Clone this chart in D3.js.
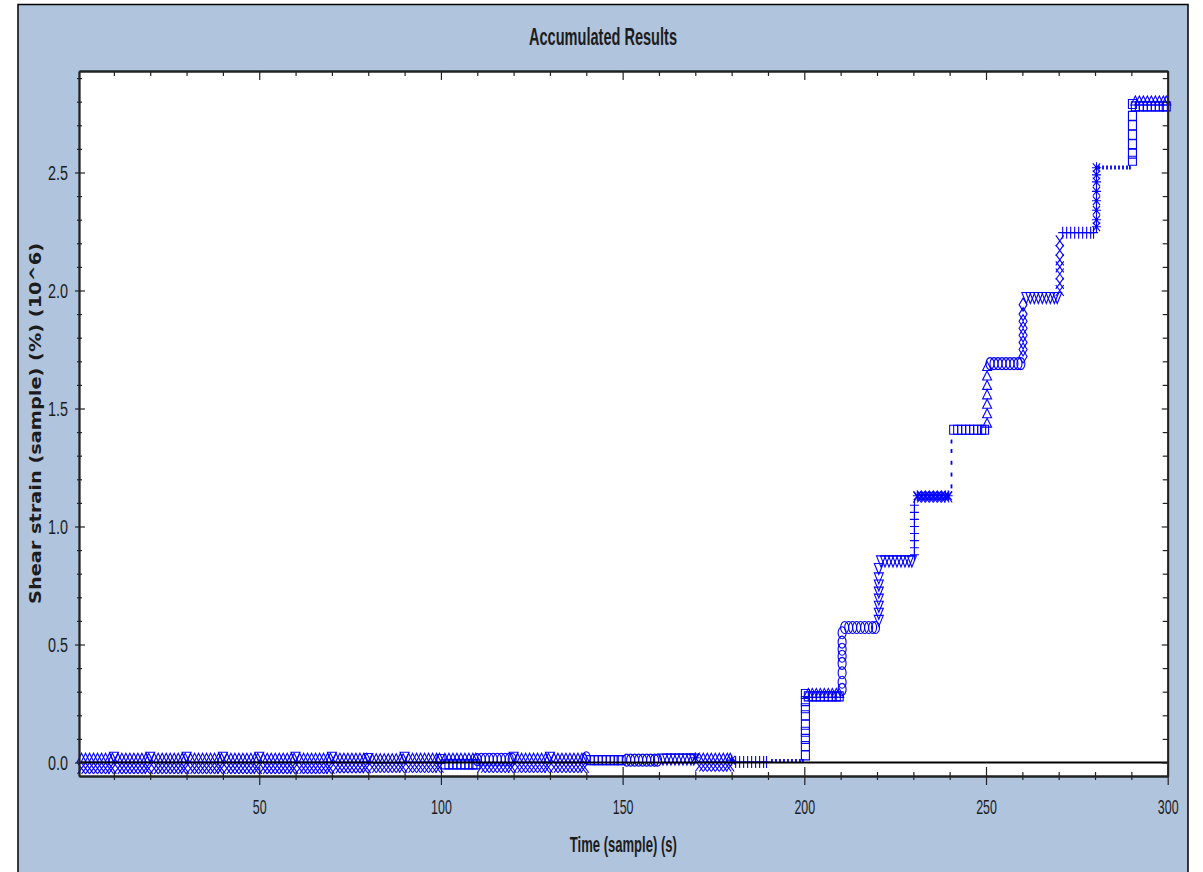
<!DOCTYPE html>
<html>
<head>
<meta charset="utf-8">
<title>Accumulated Results</title>
<style>
    body { margin: 0; background: #ffffff; }
    svg text { font-family: "Liberation Sans Narrow", "Liberation Sans", Arial, sans-serif; fill: #1c1c1c; }
    .mark { fill: none; stroke: #0000ff; stroke-width: 1.1; }
    .mark.dot { stroke-width: 1.8; }
</style>
</head>
<body>
<svg width="1203" height="872"></svg>
<script src="https://cdnjs.cloudflare.com/ajax/libs/d3/7.8.5/d3.min.js"></script>
<script>
// ---------------- data ----------------
// every 10 s block of the test
const blockStart = [0, 10, 20, 30, 40, 50, 60, 70, 80, 90,
    100, 110, 120, 130, 140, 150, 160, 170, 180, 190,
    200, 210, 220, 230, 240, 250, 260, 270, 280, 290];
// readings taken inside a block (s after block start)
const holdOffsets = [1.1, 2.2, 3.3, 4.4, 5.5, 6.6, 7.7, 8.8, 9.6];

// upper reading row of each block
const upperValue = [0.02, 0.02, 0.02, 0.02, 0.02, 0.02, 0.02, 0.02, 0.018, 0.02,
    0.02, 0.014, 0.02, 0.02, 0.01, 0.01, 0.012, 0.02, 0.002, 0.006,
    0.295, 0.572, 0.852, 1.13, 1.41, 1.69, 1.968, 2.245, 2.521, 2.805];
const upperMarker = ["triangle", "triangle", "triangle", "triangle", "triangle", "triangle", "triangle", "triangle", "triangle", "triangle",
    "triangle", "circle", "triangle", "triangle", "square", "circle", "triangleDown", "triangle", "plus", "dot",
    "triangle", "circle", "triangleDown", "star", "square", "circle", "triangleDown", "plus", "dot", "triangle"];

// lower reading row of each block (null = none)
const lowerValue = [-0.025, -0.025, -0.025, -0.025, -0.025, -0.025, -0.025, -0.022, -0.02, -0.02,
    -0.008, -0.02, -0.02, -0.02, null, null, null, -0.015, null, null,
    0.28, null, null, 1.125, null, null, null, null, null, 2.78];
const lowerMarker = ["x", "x", "x", "x", "x", "x", "x", "x", "x", "x",
    "square", "x", "x", "x", null, null, null, "x", null, null,
    "square", null, null, "x", null, null, null, null, null, "square"];

// marker drawn at the start of each block
const startValue = [null, 0.02, 0.02, 0.02, 0.02, 0.02, 0.02, 0.02, 0.015, 0.02,
    0.015, 0.012, 0.02, 0.02, 0.02, null, null, 0.02, 0.01, null];
const startMarker = [null, "triangleDown", "triangleDown", "triangleDown", "triangleDown", "triangleDown", "triangleDown", "triangleDown", "triangleDown", "triangleDown",
    "square", "circle", "triangleDown", "triangleDown", "circle", null, null, "star", "star", null];

// loading ramps at the start of each step
const rampStart = [200, 210, 220, 230, 240, 250, 260, 270, 280, 290];
const rampOffset = [0.3, 0.4, 0.5, 0.3, 0.5, 0.3, 0.2, 0.3, 0.4, 0.3];
const rampMarker = ["square", "circle", "triangleDown", "plus", "dot", "triangle", "diamond", "x", "star", "square"];
const rampValues = [
    [0.03, 0.07, 0.1, 0.13, 0.16, 0.2, 0.23, 0.26, 0.29],
    [0.31, 0.34, 0.38, 0.42, 0.45, 0.48, 0.51, 0.55],
    [0.6, 0.63, 0.66, 0.69, 0.72, 0.75, 0.78, 0.82],
    [0.88, 0.91, 0.94, 0.97, 1.0, 1.03, 1.06, 1.09],
    [1.17, 1.22, 1.27, 1.32, 1.36],
    [1.44, 1.48, 1.52, 1.56, 1.6, 1.64, 1.68],
    [1.72, 1.75, 1.78, 1.81, 1.84, 1.87, 1.9, 1.94],
    [2.0, 2.03, 2.07, 2.1, 2.13, 2.17, 2.21],
    [2.27, 2.3, 2.34, 2.38, 2.42, 2.46, 2.49, 2.52],
    [2.55, 2.58, 2.62, 2.66, 2.7, 2.74, 2.79]
];

// axes
const xMajorTicks = [50, 100, 150, 200, 250, 300];
const xMinorTicks = [10, 20, 30, 40, 60, 70, 80, 90, 110, 120, 130, 140, 160, 170, 180, 190, 210, 220, 230, 240, 260, 270, 280, 290];
const yMajorTicks = [0.0, 0.5, 1.0, 1.5, 2.0, 2.5];
const yMinorTicks = [0.1, 0.2, 0.3, 0.4, 0.6, 0.7, 0.8, 0.9, 1.1, 1.2, 1.3, 1.4, 1.6, 1.7, 1.8, 1.9, 2.1, 2.2, 2.3, 2.4, 2.6, 2.7, 2.8, 2.9];

const chartTitle = "Accumulated Results";
const xTitle = "Time (sample) (s)";
const yTitle = "Shear strain (sample) (%) (10^6)";

// ---------------- drawing ----------------
const svg = d3.select("svg");
const plot = { left: 79, right: 1167.7, top: 71, bottom: 776 };

// outer panel
svg.append("rect")
    .attr("x", 18).attr("y", 4.5)
    .attr("width", 1170).attr("height", 880)
    .attr("fill", "#b0c4de").attr("stroke", "#000").attr("stroke-width", 1.5);

svg.append("rect")
    .attr("x", plot.left).attr("y", plot.top)
    .attr("width", plot.right - plot.left).attr("height", plot.bottom - plot.top)
    .attr("fill", "#fff");

const x = d3.scaleLinear().domain([0.4, 300]).range([plot.left, plot.right]);
const y = d3.scaleLinear().domain([-0.0572, 2.93]).range([plot.bottom, plot.top]);

function markerPath(type) {
    let hw, hh;
    switch (type) {
        case "square": hw = 4; hh = 4.5;
            return `M${-hw},${-hh}H${hw}V${hh}H${-hw}Z`;
        case "triangle": hw = 4.5; hh = 4.5;
            return `M0,${-hh}L${hw},${hh}L${-hw},${hh}Z`;
        case "triangleDown": hw = 4.5; hh = 5.5;
            return `M${-hw},${-hh}L${hw},${-hh}L0,${hh}Z`;
        case "circle": hw = 4; hh = 6;
            return `M${-hw},0A${hw},${hh} 0 1,0 ${hw},0A${hw},${hh} 0 1,0 ${-hw},0Z`;
        case "diamond": hw = 4; hh = 6.5;
            return `M0,${-hh}L${hw},0L0,${hh}L${-hw},0Z`;
        case "plus": hw = 4.5; hh = 6;
            return `M${-hw},0H${hw}M0,${-hh}V${hh}`;
        case "x": hw = 4; hh = 5.5;
            return `M${-hw},${-hh}L${hw},${hh}M${hw},${-hh}L${-hw},${hh}`;
        case "star": hw = 4.5; hh = 5.5;
            return `M${-hw},0H${hw}M0,${-hh}V${hh}M${-hw * 0.8},${-hh * 0.8}L${hw * 0.8},${hh * 0.8}M${hw * 0.8},${-hh * 0.8}L${-hw * 0.8},${hh * 0.8}`;
        case "dot": hh = 2;
            return `M0,${-hh}V${hh}`;
    }
    return "";
}

// build the list of marks from the arrays
const marks = [];
blockStart.forEach((t0, i) => {
    holdOffsets.forEach(o => {
        marks.push({ t: t0 + o, v: upperValue[i], m: upperMarker[i] });
        if (lowerMarker[i]) marks.push({ t: t0 + o, v: lowerValue[i], m: lowerMarker[i] });
    });
    if (startMarker[i]) marks.push({ t: t0, v: startValue[i], m: startMarker[i] });
});
rampStart.forEach((t0, i) => {
    rampValues[i].forEach(v => marks.push({ t: t0 + rampOffset[i], v: v, m: rampMarker[i] }));
});

svg.append("g")
    .selectAll("path")
    .data(marks)
    .enter().append("path")
    .attr("class", d => "mark " + d.m)
    .attr("transform", d => "translate(" + x(d.t) + "," + y(d.v) + ")")
    .attr("d", d => markerPath(d.m));

// zero line
svg.append("line")
    .attr("x1", plot.left).attr("x2", plot.right)
    .attr("y1", y(0)).attr("y2", y(0))
    .attr("stroke", "#000").attr("stroke-width", 1.8);

// squeeze text to the width seen in the picture
function squeeze(sel, w) {
    sel.attr("textLength", w).attr("lengthAdjust", "spacingAndGlyphs");
}

// bottom axis: ticks cross the axis line
const gx = svg.append("g").attr("transform", "translate(0," + plot.bottom + ")");
gx.call(d3.axisBottom(x).tickValues(xMinorTicks).tickFormat("").tickSizeOuter(0));
gx.selectAll(".tick line").attr("y1", -4).attr("y2", 4);
const gx2 = svg.append("g").attr("transform", "translate(0," + plot.bottom + ")");
gx2.call(d3.axisBottom(x).tickValues(xMajorTicks).tickFormat(d3.format("d")).tickSizeOuter(0));
gx2.selectAll(".tick line").attr("y1", -9).attr("y2", 9);
gx2.selectAll(".tick text")
    .attr("y", 38).attr("dy", null)
    .style("font-size", "21px")
    .each(function (d) { squeeze(d3.select(this), String(d).length * 6.9); });

// left axis
const gy = svg.append("g").attr("transform", "translate(" + plot.left + ",0)");
gy.call(d3.axisLeft(y).tickValues(yMinorTicks).tickFormat("").tickSizeOuter(0));
gy.selectAll(".tick line").attr("x1", -2).attr("x2", 3);
const gy2 = svg.append("g").attr("transform", "translate(" + plot.left + ",0)");
gy2.call(d3.axisLeft(y).tickValues(yMajorTicks).tickFormat(d3.format(".1f")).tickSizeOuter(0));
gy2.selectAll(".tick line").attr("x1", -4).attr("x2", 6);
gy2.selectAll(".tick text")
    .attr("x", -11).attr("dy", "0.35em")
    .style("font-size", "20px")
    .each(function () { squeeze(d3.select(this), 20); });

// top axis (ticks inward)
const gt = svg.append("g").attr("transform", "translate(0," + plot.top + ")");
gt.call(d3.axisTop(x).tickValues(xMinorTicks).tickFormat("").tickSizeInner(-5).tickSizeOuter(0));
const gt2 = svg.append("g").attr("transform", "translate(0," + plot.top + ")");
gt2.call(d3.axisTop(x).tickValues(xMajorTicks).tickFormat("").tickSizeInner(-9).tickSizeOuter(0));

// right axis (ticks inward)
const gr = svg.append("g").attr("transform", "translate(" + plot.right + ",0)");
gr.call(d3.axisRight(y).tickValues(yMinorTicks).tickFormat("").tickSizeInner(-5).tickSizeOuter(0));
const gr2 = svg.append("g").attr("transform", "translate(" + plot.right + ",0)");
gr2.call(d3.axisRight(y).tickValues(yMajorTicks).tickFormat("").tickSizeInner(-6).tickSizeOuter(0));

svg.selectAll(".domain").attr("stroke", "#222").attr("stroke-width", 1.8);
svg.selectAll(".tick line").attr("stroke", "#222").attr("stroke-width", 1.2);

// titles
svg.append("text")
    .attr("x", 603).attr("y", 45)
    .attr("text-anchor", "middle")
    .style("font-size", "23px").style("font-weight", "bold")
    .text(chartTitle)
    .call(squeeze, 148);

svg.append("text")
    .attr("x", (plot.left + plot.right) / 2).attr("y", 852)
    .attr("text-anchor", "middle")
    .style("font-size", "22px").style("font-weight", "bold")
    .text(xTitle)
    .call(squeeze, 107);

svg.append("text")
    .attr("transform", "translate(40.5," + (plot.top + plot.bottom) / 2 + ") rotate(-90)")
    .attr("text-anchor", "middle")
    .style("font-family", "'DejaVu Sans', Verdana, sans-serif")
    .style("font-size", "15px").style("font-weight", "bold")
    .text(yTitle)
    .call(squeeze, 361);
</script>
</body>
</html>
